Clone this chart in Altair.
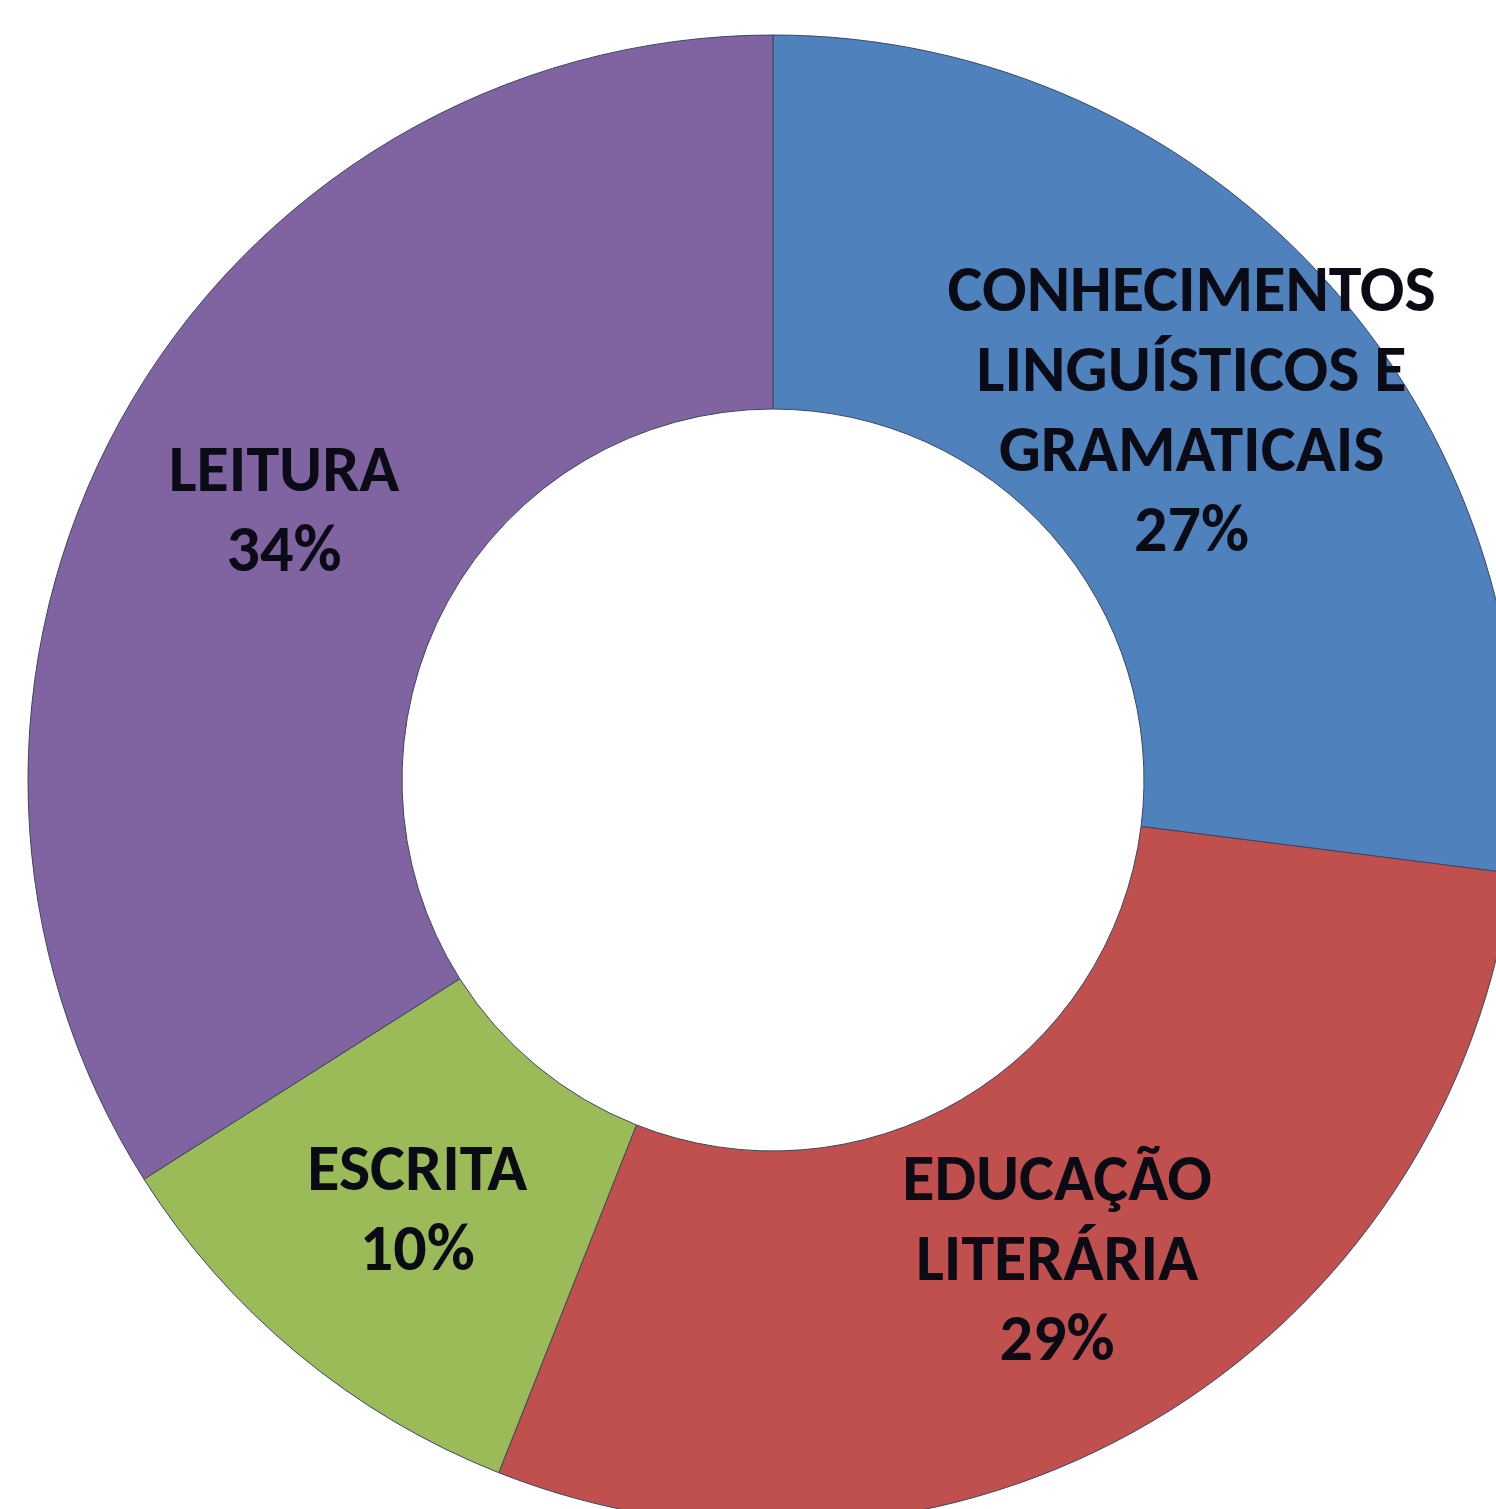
import altair as alt
import pandas as pd

categories = ["CONHECIMENTOS\nLINGUÍSTICOS E\nGRAMATICAIS", "EDUCAÇÃO\nLITERÁRIA", "ESCRITA", "LEITURA"]
values = [27, 29, 10, 34]
colors = ["#4F81BD", "#C0504D", "#9BBB59", "#8064A2"]

df = pd.DataFrame({
    "cat": categories,
    "value": values,
    "idx": list(range(len(categories))),
})
df["label"] = df["cat"] + "\n" + df["value"].astype(str) + "%"
df["nlines"] = df["label"].str.count("\n") + 1

LINE_H = 80

base = alt.Chart(df).encode(
    theta=alt.Theta("value:Q", stack=True),
    order=alt.Order("idx:Q", sort="ascending"),
)

arcs = base.mark_arc(stroke="#3c4660", strokeWidth=1).encode(
    color=alt.Color("cat:N", scale=alt.Scale(domain=categories, range=colors), legend=None),
    radius=alt.value(745),
    radius2=alt.value(371),
)

layers = [arcs]
for n in sorted(df["nlines"].unique()):
    t = base.mark_text(
        font="Carlito, Lato, Open Sans, sans-serif",
        fontWeight="bold",
        fontSize=66,
        lineHeight=LINE_H,
        lineBreak="\n",
        color="#0b0b16",
        align="center",
        baseline="middle",
        dy=-(int(n) - 1) * LINE_H / 2,
    ).encode(
        text=alt.condition(f"datum.nlines == {int(n)}", "label:N", alt.value("")),
        radius=alt.value(558),
    )
    layers.append(t)

chart = alt.layer(*layers).properties(
    width=1446,
    height=1458,
    padding={"left": 50, "top": 51, "right": 0, "bottom": 0},
    autosize=alt.AutoSizeParams(type="none"),
).configure_view(stroke=None).configure(background="white")

chart.save("out.html", embed_options={"renderer": "svg", "actions": False})
